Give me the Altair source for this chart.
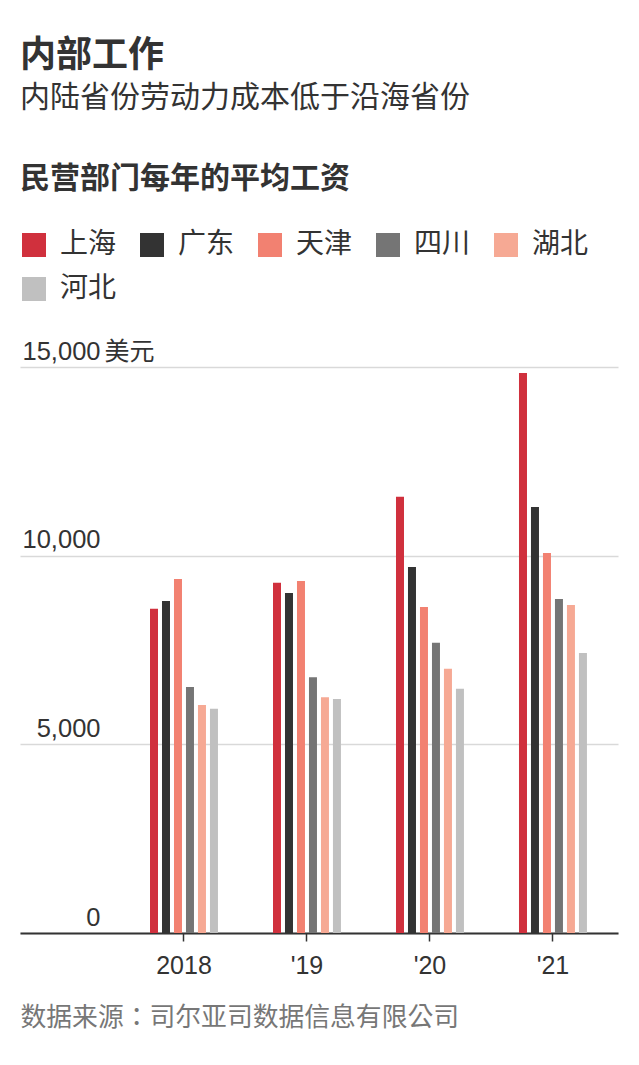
import altair as alt
import pandas as pd

years = ["2018", "'19", "'20", "'21"]
provinces = ["上海", "广东", "天津", "四川", "湖北", "河北"]
colors = ["#d0303d", "#333333", "#f28171", "#757575", "#f6a994", "#c0c0c0"]
values = {
    "上海": [8590, 9280, 11560, 14840],
    "广东": [8800, 9010, 9700, 11290],
    "天津": [9380, 9330, 8640, 10070],
    "四川": [6520, 6780, 7690, 8850],
    "湖北": [6040, 6250, 7000, 8690],
    "河北": [5940, 6200, 6470, 7420],
}

rows = []
for p in provinces:
    for y, v in zip(years, values[p]):
        rows.append({"year": y, "province": p, "wage": v})
df = pd.DataFrame(rows)

FONT = "'Liberation Sans', 'Noto Sans CJK SC', sans-serif"
FONT_TC = "'Liberation Sans', 'Noto Sans CJK TC', sans-serif"

chart = (
    alt.Chart(df)
    .mark_bar()
    .encode(
        x=alt.X(
            "year:N",
            sort=years,
            scale=alt.Scale(paddingInner=0.415, paddingOuter=0.6385, align=0.815),
            axis=alt.Axis(
                title="数据来源：司尔亚司数据信息有限公司",
                titleFont=FONT_TC,
                titleX=0,
                titleAlign="left",
                titleAnchor="start",
                titleFontSize=25.8,
                titleFontWeight="normal",
                titleColor="#777777",
                titlePadding=27,
                labelAngle=0,
                labelFontSize=25,
                labelColor="#333333",
                labelPadding=12,
                domainColor="#333333",
                domainWidth=2,
                tickColor="#333333",
                tickSize=8,
                tickWidth=1.5,
                grid=False,
            ),
        ),
        xOffset=alt.XOffset(
            "province:N",
            sort=provinces,
            scale=alt.Scale(paddingInner=0.333, paddingOuter=0.1667),
        ),
        y=alt.Y(
            "wage:Q",
            scale=alt.Scale(domain=[0, 15000], nice=False),
            axis=alt.Axis(
                values=[0, 5000, 10000, 15000],
                format=",.0f",
                title="美元",
                titleAngle=0,
                titleX=84,
                titleY=-3,
                titleAlign="left",
                titleBaseline="bottom",
                titleFontSize=25,
                titleFontWeight="normal",
                titleColor="#333333",
                labelAlign="right",
                labelBaseline="bottom",
                labelPadding=-80,
                labelOffset=-3,
                labelFontSize=25.5,
                labelColor="#333333",
                ticks=False,
                tickSize=0,
                domain=False,
                gridColor="#d9d9d9",
                gridWidth=1.5,
            ),
        ),
        color=alt.Color(
            "province:N",
            sort=provinces,
            scale=alt.Scale(domain=provinces, range=colors),
            legend=alt.Legend(
                title="民营部门每年的平均工资",
                orient="top",
                columns=5,
                direction="horizontal",
                titleFontSize=30,
                titleFontWeight="bold",
                titleColor="#333333",
                titlePadding=37,
                titleLimit=600,
                symbolType="square",
                symbolSize=576,
                symbolStrokeWidth=0,
                symbolOpacity=1,
                labelFontSize=28,
                labelColor="#333333",
                labelOffset=12,
                columnPadding=21,
                rowPadding=16,
                gridAlign="all",
                offset=64,
            ),
        ),
    )
    .properties(
        width=598,
        height=566,
        padding={"left": 12, "top": 30, "right": 12, "bottom": 20},
        title=alt.TitleParams(
            text="内部工作",
            subtitle="内陆省份劳动力成本低于沿海省份",
            anchor="start",
            fontSize=36,
            fontWeight="bold",
            color="#333333",
            subtitleFontSize=30,
            subtitleColor="#333333",
            subtitlePadding=8,
            offset=50,
        ),
    )
    .configure(font=FONT)
    .configure_view(stroke=None)
)

chart.save("out.html", embed_options={"renderer": "svg", "actions": False})
